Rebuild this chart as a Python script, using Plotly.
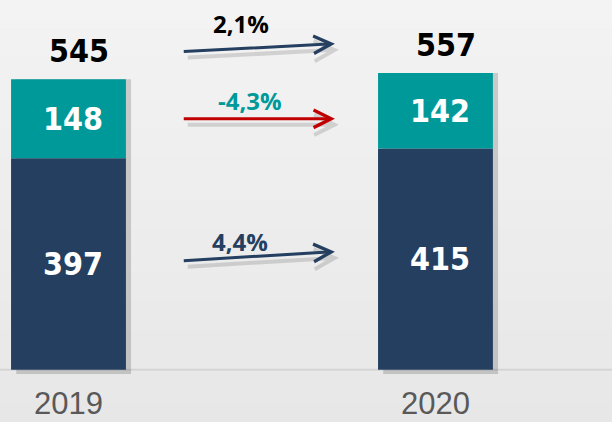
import plotly.graph_objects as go

# data
years = ["2019", "2020"]
lower_values = [397, 415]      # dark navy segment
upper_values = [148, 142]      # teal segment
totals = [545, 557]
change_labels = ["2,1%", "-4,3%", "4,4%"]

NAVY = "#243f60"
TEAL = "#009999"
RED = "#c00000"
NUM_FONT = "Liberation Sans Narrow, DejaVu Sans Condensed, Arial Narrow, sans-serif"
PCT_FONT = "Open Sans, DejaVu Sans, sans-serif"

xpos = list(range(len(years)))
bar_w = 0.313

fig = go.Figure()

# soft drop shadow behind each bar
fig.add_trace(go.Bar(x=[x + 0.014 for x in xpos], y=[t + 8 for t in totals], base=-8,
                     width=bar_w, marker=dict(color="rgba(0,0,0,0.16)", line_width=0),
                     hoverinfo="skip", showlegend=False))
fig.add_trace(go.Bar(x=xpos, y=lower_values, width=bar_w, name="lower",
                     marker=dict(color=NAVY, line_width=0), showlegend=False))
fig.add_trace(go.Bar(x=xpos, y=upper_values, base=lower_values, width=bar_w, name="upper",
                     marker=dict(color=TEAL, line_width=0), showlegend=False))

annotations = []
# totals above bars
for x, t in zip(xpos, totals):
    annotations.append(dict(x=x, y=t + 53, xshift=11, text=f"<b>{t}</b>", showarrow=False,
                            font=dict(family=NUM_FONT, size=32, color="black")))
# segment labels
for x, lo, up in zip(xpos, lower_values, upper_values):
    annotations.append(dict(x=x, y=lo / 2, xshift=5, text=f"<b>{lo}</b>", showarrow=False,
                            font=dict(family=NUM_FONT, size=32, color="white")))
    annotations.append(dict(x=x, y=lo + up / 2, xshift=5, text=f"<b>{up}</b>", showarrow=False,
                            font=dict(family=NUM_FONT, size=32, color="white")))

# growth arrows: (tail y, head y, line colour, label colour, label y)
ax0, ax1 = 0.31, 0.726
arrows = [
    (totals[0] + 52, totals[1] + 55, NAVY, "black", 649),
    (lower_values[0] + upper_values[0] / 2, lower_values[1] + upper_values[1] / 2 - 15, RED, TEAL, 505),
    (lower_values[0] / 2 + 6, lower_values[1] / 2 + 14, NAVY, NAVY, 240),
]
label_x = [0.47, 0.495, 0.467]
for (y0, y1, lc, tc, ly), lbl, lx in zip(arrows, change_labels, label_x):
    # shadow
    annotations.append(dict(x=ax1, y=y1, ax=ax0, ay=y0, axref="x", ayref="y", xref="x", yref="y",
                            text="", showarrow=True, arrowhead=5, arrowsize=1.0, arrowwidth=4,
                            arrowcolor="rgba(0,0,0,0.13)", xshift=4, yshift=-6))
    annotations.append(dict(x=ax1, y=y1, ax=ax0, ay=y0, axref="x", ayref="y", xref="x", yref="y",
                            text="", showarrow=True, arrowhead=5, arrowsize=1.15, arrowwidth=3,
                            arrowcolor=lc))
    annotations.append(dict(x=lx, y=ly, text=f"<b>{lbl}</b>", showarrow=False,
                            font=dict(family=PCT_FONT, size=24, color=tc, weight="bold")))

# light vertical gradient background
shapes = []
n = 30
for i in range(n):
    f = i / (n - 1)
    c = int(round(0xf3 - (0xf3 - 0xe7) * f))
    shapes.append(dict(type="rect", xref="paper", yref="paper", x0=-0.1, x1=1.1,
                       y0=1.0 - (i + 1) * 1.15 / n, y1=1.0 - i * 1.15 / n + 0.001,
                       fillcolor=f"rgb({c},{c},{c})", line_width=0, layer="below"))
# baseline
shapes.append(dict(type="line", xref="paper", yref="y", x0=0, x1=1, y0=0, y1=0,
                   line=dict(color="#d4d4d4", width=2), layer="below"))

fig.update_layout(
    width=612, height=422,
    margin=dict(l=0, r=0, t=0, b=47),
    barmode="overlay",
    paper_bgcolor="#e8e8e8",
    plot_bgcolor="rgba(0,0,0,0)",
    annotations=annotations,
    shapes=shapes,
    xaxis=dict(range=[-0.1866, 1.481], tickvals=xpos, ticktext=years, showgrid=False,
               zeroline=False, showline=False, ticks="", ticklabelstandoff=7, automargin=False,
               tickfont=dict(family="Liberation Sans, Arial, sans-serif", size=31, color="#595959")),
    yaxis=dict(range=[-10, 694], visible=False, showgrid=False, zeroline=False),
)

# drop the default page margin so the chart sits flush in the window
fig.write_html("out.html", config={"displayModeBar": False},
               post_script="document.body.style.margin='0';")
